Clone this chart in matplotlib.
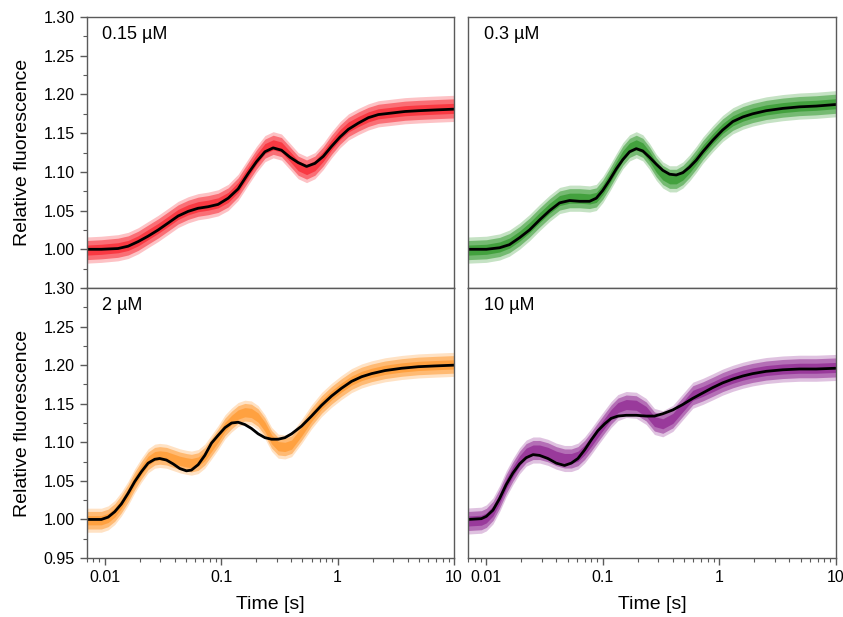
"""Stopped-flow fluorescence traces with fits, four concentrations (2x2 panels)."""
import matplotlib
matplotlib.use("Agg")
import matplotlib.pyplot as plt
import matplotlib.ticker as mticker

plt.rcParams["font.family"] = ["Liberation Sans", "DejaVu Sans"]

# ---- data ----
# 0.15 uM (red)
t_015 = [0.007, 0.00936, 0.0130, 0.0159, 0.0194, 0.0236, 0.0288, 0.0351, 0.0427, 0.0521,
         0.0634, 0.0774, 0.0942, 0.115, 0.140, 0.171, 0.201, 0.238, 0.280, 0.330,
         0.390, 0.459, 0.542, 0.639, 0.754, 0.889, 1.05, 1.24, 1.51, 1.84,
         2.24, 2.92, 3.80, 4.95, 6.88, 10]
fit_015 = [1.000, 1.000, 1.001, 1.004, 1.010, 1.017, 1.025, 1.034, 1.043, 1.049,
           1.053, 1.055, 1.058, 1.066, 1.078, 1.098, 1.113, 1.126, 1.131, 1.128,
           1.119, 1.112, 1.107, 1.111, 1.120, 1.133, 1.145, 1.155, 1.163, 1.170,
           1.174, 1.176, 1.178, 1.179, 1.180, 1.181]
data_015 = [0.999, 1.000, 1.002, 1.005, 1.011, 1.019, 1.027, 1.036, 1.045, 1.051,
            1.055, 1.057, 1.060, 1.067, 1.080, 1.100, 1.116, 1.130, 1.135, 1.132,
            1.120, 1.108, 1.103, 1.108, 1.120, 1.135, 1.148, 1.158, 1.165, 1.171,
            1.175, 1.177, 1.179, 1.180, 1.181, 1.182]
spread_015 = 0.013

# 0.3 uM (green)
t_03 = [0.007, 0.0100, 0.0130, 0.0158, 0.0193, 0.0235, 0.0287, 0.0350, 0.0426, 0.0519,
        0.0632, 0.0771, 0.0880, 0.100, 0.114, 0.131, 0.149, 0.170, 0.194, 0.221,
        0.252, 0.288, 0.328, 0.375, 0.428, 0.488, 0.556, 0.635, 0.724, 0.883,
        1.07, 1.31, 1.60, 1.94, 2.53, 3.52, 4.89, 6.80, 10]
fit_03 = [1.000, 1.000, 1.002, 1.006, 1.015, 1.025, 1.038, 1.050, 1.060, 1.063,
          1.062, 1.062, 1.066, 1.076, 1.089, 1.104, 1.116, 1.126, 1.130, 1.127,
          1.119, 1.110, 1.102, 1.097, 1.096, 1.099, 1.106, 1.115, 1.126, 1.141,
          1.154, 1.165, 1.171, 1.175, 1.179, 1.182, 1.184, 1.185, 1.187]
data_03 = [0.999, 1.000, 1.003, 1.008, 1.017, 1.028, 1.041, 1.053, 1.063, 1.066,
           1.066, 1.065, 1.067, 1.077, 1.091, 1.107, 1.121, 1.131, 1.135, 1.131,
           1.120, 1.106, 1.096, 1.091, 1.091, 1.096, 1.105, 1.116, 1.128, 1.143,
           1.156, 1.166, 1.172, 1.176, 1.180, 1.183, 1.185, 1.186, 1.188]
spread_03 = 0.013

# 2 uM (orange)
t_2 = [0.007, 0.00936, 0.0107, 0.0122, 0.0139, 0.0159, 0.0181, 0.0207, 0.0236, 0.0269,
       0.0297, 0.0339, 0.0387, 0.0442, 0.0504, 0.0556, 0.0635, 0.0724, 0.0827, 0.0942,
       0.108, 0.123, 0.140, 0.160, 0.182, 0.208, 0.238, 0.271, 0.309, 0.353,
       0.403, 0.491, 0.598, 0.730, 0.889, 1.08, 1.32, 1.61, 1.96, 2.56,
       3.56, 4.95, 6.88, 10]
fit_2 = [1.000, 1.000, 1.003, 1.010, 1.020, 1.034, 1.049, 1.062, 1.073, 1.078,
         1.079, 1.077, 1.072, 1.066, 1.063, 1.064, 1.071, 1.083, 1.099, 1.109,
         1.119, 1.125, 1.126, 1.123, 1.118, 1.111, 1.106, 1.104, 1.104, 1.106,
         1.111, 1.121, 1.134, 1.148, 1.160, 1.170, 1.179, 1.185, 1.189, 1.193,
         1.196, 1.198, 1.199, 1.200]
data_2 = [0.999, 0.999, 1.002, 1.009, 1.020, 1.034, 1.050, 1.064, 1.076, 1.082,
          1.083, 1.082, 1.079, 1.076, 1.074, 1.073, 1.075, 1.082, 1.094, 1.106,
          1.120, 1.129, 1.136, 1.139, 1.138, 1.132, 1.120, 1.104, 1.095, 1.094,
          1.097, 1.114, 1.133, 1.149, 1.161, 1.171, 1.180, 1.186, 1.190, 1.194,
          1.197, 1.199, 1.200, 1.201]
spread_2 = 0.012

# 10 uM (purple)
t_10 = [0.007, 0.00906, 0.0100, 0.0114, 0.0130, 0.0148, 0.0169, 0.0193, 0.0220, 0.0252,
        0.0287, 0.0338, 0.0399, 0.0470, 0.0537, 0.0612, 0.0698, 0.0796, 0.0908, 0.104,
        0.118, 0.135, 0.159, 0.194, 0.236, 0.278, 0.328, 0.400, 0.487, 0.594,
        0.724, 0.883, 1.07, 1.31, 1.60, 1.94, 2.53, 3.52, 4.89, 6.80,
        10]
fit_10 = [1.000, 1.001, 1.004, 1.012, 1.027, 1.045, 1.060, 1.072, 1.080, 1.084,
          1.083, 1.079, 1.073, 1.070, 1.073, 1.079, 1.090, 1.103, 1.115, 1.124,
          1.131, 1.134, 1.135, 1.135, 1.134, 1.134, 1.137, 1.142, 1.149, 1.157,
          1.164, 1.171, 1.177, 1.182, 1.186, 1.189, 1.192, 1.194, 1.195, 1.195,
          1.196]
data_10 = [0.998, 0.999, 1.002, 1.011, 1.027, 1.046, 1.062, 1.076, 1.086, 1.090,
           1.090, 1.087, 1.082, 1.079, 1.079, 1.082, 1.090, 1.101, 1.113, 1.125,
           1.136, 1.145, 1.149, 1.148, 1.140, 1.127, 1.124, 1.131, 1.146, 1.161,
           1.166, 1.172, 1.178, 1.183, 1.187, 1.190, 1.193, 1.195, 1.196, 1.196,
           1.197]
spread_10 = 0.013

panels = [
    ("0.15 µM", t_015, data_015, fit_015, spread_015, "#f93640"),
    ("0.3 µM", t_03, data_03, fit_03, spread_03, "#41a03c"),
    ("2 µM", t_2, data_2, fit_2, spread_2, "#ffa03e"),
    ("10 µM", t_10, data_10, fit_10, spread_10, "#98389a"),
]

SPINE = "#5a5a5a"

fig = plt.figure(figsize=(8.43, 6.17), dpi=100)
left_x, right_x, w = 0.1028, 0.5555, 0.4357
top_y, mid_y, bot_y = 0.9724, 0.5332, 0.0956
rects = [
    (left_x, mid_y, w, top_y - mid_y),
    (right_x, mid_y, w, top_y - mid_y),
    (left_x, bot_y, w, mid_y - bot_y),
    (right_x, bot_y, w, mid_y - bot_y),
]

for i, (rect, (label, t, d, fit, sp, col)) in enumerate(zip(rects, panels)):
    ax = fig.add_axes(rect)
    # noisy trace drawn as density bands around its centre line
    for k, a in [(1.3, 0.3), (0.95, 0.6), (0.5, 0.95)]:
        ax.fill_between(t, [v - sp * k for v in d], [v + sp * k for v in d],
                        color=col, alpha=a, lw=0)
    ax.plot(t, fit, color="black", lw=2.0, solid_joinstyle="round", solid_capstyle="round")

    ax.set_xscale("log")
    ax.set_xlim(0.007, 10)
    ax.set_ylim(0.95, 1.30)

    for s in ax.spines.values():
        s.set_color(SPINE)
        s.set_linewidth(1.0)

    ax.text(0.042, 0.92, label, transform=ax.transAxes, ha="left", va="baseline", fontsize=13)

    is_left = i % 2 == 0
    is_bottom = i >= 2

    if is_left:
        ax.yaxis.set_major_locator(mticker.MultipleLocator(0.05))
        ax.yaxis.set_minor_locator(mticker.MultipleLocator(0.025))
        ax.yaxis.set_major_formatter(mticker.FormatStrFormatter("%.2f"))
        ax.tick_params(axis="y", which="major", direction="out", length=5, width=1,
                       color=SPINE, labelsize=11.5)
        ax.tick_params(axis="y", which="minor", direction="out", length=3, width=0.8,
                       color=SPINE)
        ax.set_ylabel("Relative fluorescence", fontsize=14, labelpad=9)
        if not is_bottom:
            ax.set_yticks([1.00, 1.05, 1.10, 1.15, 1.20, 1.25, 1.30])
    else:
        ax.tick_params(axis="y", which="both", left=False, labelleft=False)

    if is_bottom:
        ax.xaxis.set_major_locator(mticker.FixedLocator([0.01, 0.1, 1, 10]))
        ax.xaxis.set_major_formatter(mticker.FixedFormatter(["0.01", "0.1", "1", "10"]))
        ax.xaxis.set_minor_locator(mticker.LogLocator(base=10, subs=range(2, 10)))
        ax.xaxis.set_minor_formatter(mticker.NullFormatter())
        ax.tick_params(axis="x", which="major", direction="out", length=5, width=1,
                       color=SPINE, labelsize=11.5)
        ax.tick_params(axis="x", which="minor", direction="out", length=3, width=0.8,
                       color=SPINE)
        ax.set_xlabel("Time [s]", fontsize=14, labelpad=8)
    else:
        ax.tick_params(axis="x", which="both", bottom=False, labelbottom=False)

fig.savefig("out.png", dpi=100)
